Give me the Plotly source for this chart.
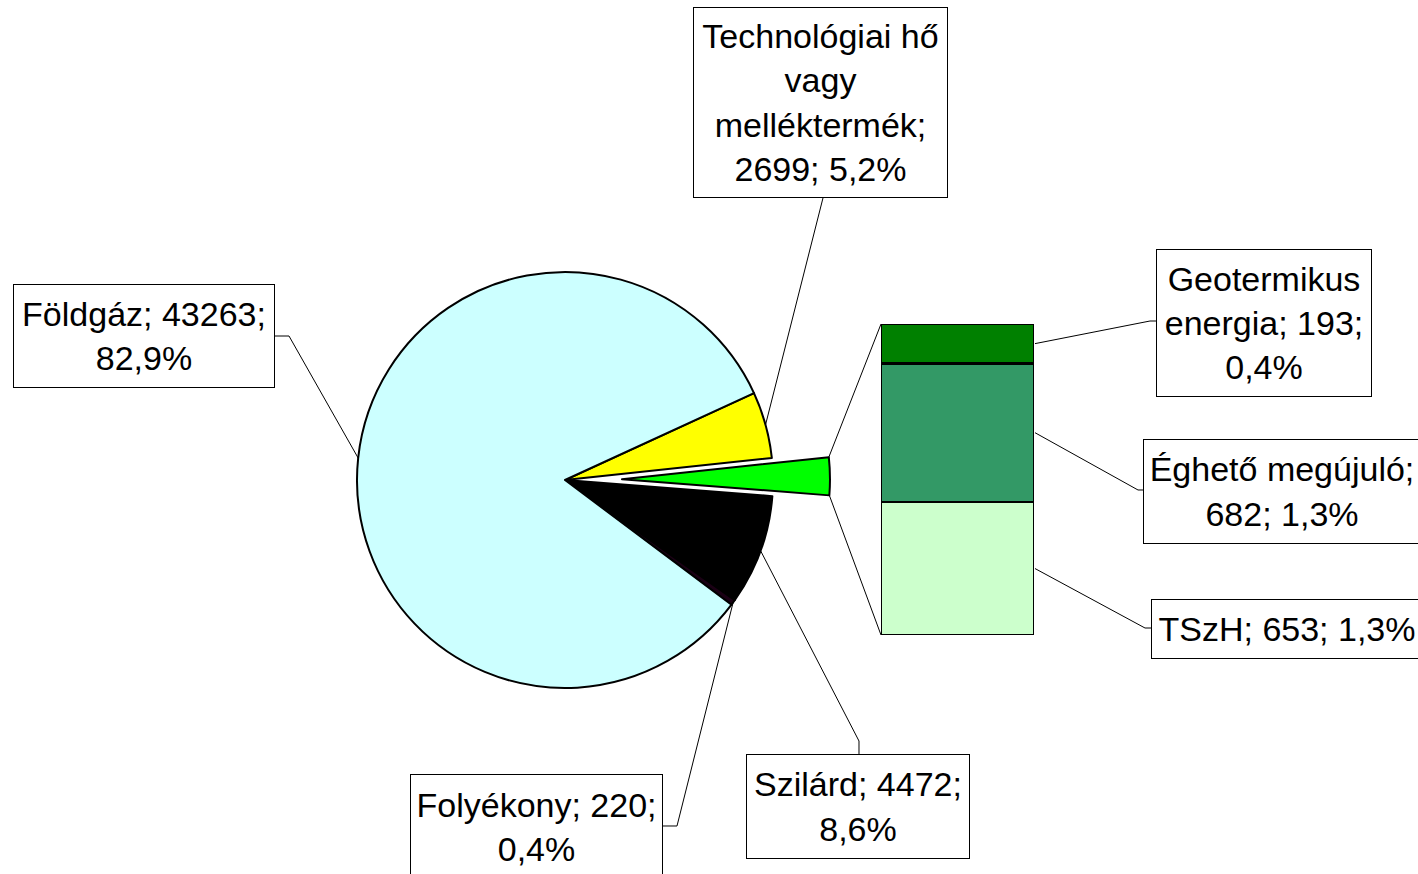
import math
import plotly.graph_objects as go

W, H = 1418, 874

# ---------------- data ----------------
bar_labels = ["TSzH", "Éghető megújuló", "Geotermikus energia"]
bar_values = [653, 682, 193]
bar_colors = ["#CCFFCC", "#339966", "#008000"]

pie_labels = ["Technológiai hő vagy melléktermék", "Egyéb (megújuló)", "Szilárd", "Folyékony", "Földgáz"]
pie_values = [2699, sum(bar_values), 4472, 220, 43263]
pie_colors = ["#FFFF00", "#00FF00", "#000000", "#1A0014", "#CCFFFF"]
pie_pull = [0, 0.274, 0, 0, 0]

total = sum(pie_values)


def pct(v):
    return f"{v / total * 100:.1f}".replace(".", ",")


# ---------------- geometry helpers ----------------
def px(x):
    return x / W


def py(y):
    return 1 - y / H


CX, CY, R = 565, 480, 208
ROT = 65.3  # degrees clockwise from 12 o'clock
maxpull = max(pie_pull)
half = R * (1 + maxpull)

# slice mid-angles (math convention, degrees)
start = 90 - ROT
mids = []
cum = 0
for v in pie_values:
    a0 = start - cum / total * 360
    a1 = start - (cum + v) / total * 360
    mids.append((a0 + a1) / 2)
    cum += v


def edge(i):
    a = math.radians(mids[i])
    ox = CX + pie_pull[i] * R * math.cos(a)
    oy = CY - pie_pull[i] * R * math.sin(a)
    return ox + R * math.cos(a), oy - R * math.sin(a)


# bar axes placement (pixels)
BX0, BX1, BY0, BY1 = 881, 1034, 324, 635
other_total = sum(bar_values)


def bar_y(v):
    return BY1 - v / other_total * (BY1 - BY0)


fig = go.Figure()

fig.add_trace(go.Pie(
    labels=pie_labels,
    values=pie_values,
    sort=False,
    direction="clockwise",
    rotation=ROT,
    pull=pie_pull,
    textinfo="none",
    hoverinfo="label+value+percent",
    marker=dict(colors=pie_colors, line=dict(color="#000000", width=2)),
    showlegend=False,
    domain=dict(x=[px(CX - half), px(CX + half)], y=[py(CY + half), py(CY - half)]),
))

for lab, val, col in zip(bar_labels, bar_values, bar_colors):
    fig.add_trace(go.Bar(
        x=[0], y=[val], name=lab, width=1,
        marker=dict(color=col, line=dict(color="#000000", width=2.5)),
        showlegend=False,
    ))

fig.update_layout(
    width=W, height=H,
    margin=dict(l=0, r=0, t=0, b=0),
    paper_bgcolor="white", plot_bgcolor="rgba(0,0,0,0)",
    barmode="stack",
    xaxis=dict(domain=[px(BX0), px(BX1)], range=[-0.5, 0.5], visible=False, fixedrange=True),
    yaxis=dict(domain=[py(BY1), py(BY0)], range=[0, other_total], visible=False, fixedrange=True),
    font=dict(family="Liberation Sans, Arial, sans-serif", size=34, color="#000000"),
)

# ---------------- labels ----------------
labels = [
    # text, center x, center y, box w, box h
    (f"Technológiai hő<br>vagy<br>melléktermék;<br>{pie_values[0]}; {pct(pie_values[0])}%", 820.5, 102.5, 255, 191),
    (f"Földgáz; {pie_values[4]};<br>{pct(pie_values[4])}%", 144, 336, 262, 104),
    (f"Szilárd; {pie_values[2]};<br>{pct(pie_values[2])}%", 858, 806.5, 224, 105),
    (f"Folyékony; {pie_values[3]};<br>{pct(pie_values[3])}%", 536.5, 827, 253, 106),
    (f"Geotermikus<br>energia; {bar_values[2]};<br>{pct(bar_values[2])}%", 1264, 323, 216, 148),
    (f"Éghető megújuló;<br>{bar_values[1]}; {pct(bar_values[1])}%", 1282, 492, 278, 105),
    (f"TSzH; {bar_values[0]}; {pct(bar_values[0])}%", 1287, 629, 272, 60),
]
for text, x, y, w, h in labels:
    fig.add_annotation(
        text=text, x=px(x), y=py(y), xref="paper", yref="paper",
        xanchor="center", yanchor="middle", showarrow=False,
        width=w - 2, height=h - 2, align="center", valign="middle",
        bordercolor="#000000", borderwidth=1, borderpad=0, bgcolor="white",
    )

# ---------------- leader lines ----------------
def path(points):
    return "M " + " L ".join(f"{px(a):.5f},{py(b):.5f}" for a, b in points)


leaders = [
    [edge(0), (823, 198)],
    [edge(4), (289, 336), (275, 336)],
    [edge(2), (859, 741), (859, 754)],
    [edge(3), (677, 826), (663, 826)],
]
# bar segment mid-points on the right edge
c = 0
bar_mid = []
for v in bar_values:
    bar_mid.append(bar_y(c + v / 2))
    c += v
leaders += [
    [(BX1 + 1, bar_mid[2]), (1150, 321), (1156, 321)],
    [(BX1 + 1, bar_mid[1]), (1138, 490), (1143, 490)],
    [(BX1 + 1, bar_mid[0]), (1145, 628), (1151, 628)],
]

# connectors from exploded slice to bar
a = math.radians(mids[1])
ox = CX + pie_pull[1] * R * math.cos(a)
oy = CY - pie_pull[1] * R * math.sin(a)
half_ang = pie_values[1] / total * math.pi
top_pt = (ox + R * math.cos(a + half_ang), oy - R * math.sin(a + half_ang))
bot_pt = (ox + R * math.cos(a - half_ang), oy - R * math.sin(a - half_ang))
leaders += [[top_pt, (BX0, BY0)], [bot_pt, (BX0, BY1)]]

for pts in leaders:
    fig.add_shape(type="path", path=path(pts), xref="paper", yref="paper",
                  line=dict(color="#000000", width=1), layer="above")

fig.write_html(
    "out.html",
    config={"displayModeBar": False},
    post_script="document.body.style.margin='0';document.body.style.overflow='hidden';",
)
